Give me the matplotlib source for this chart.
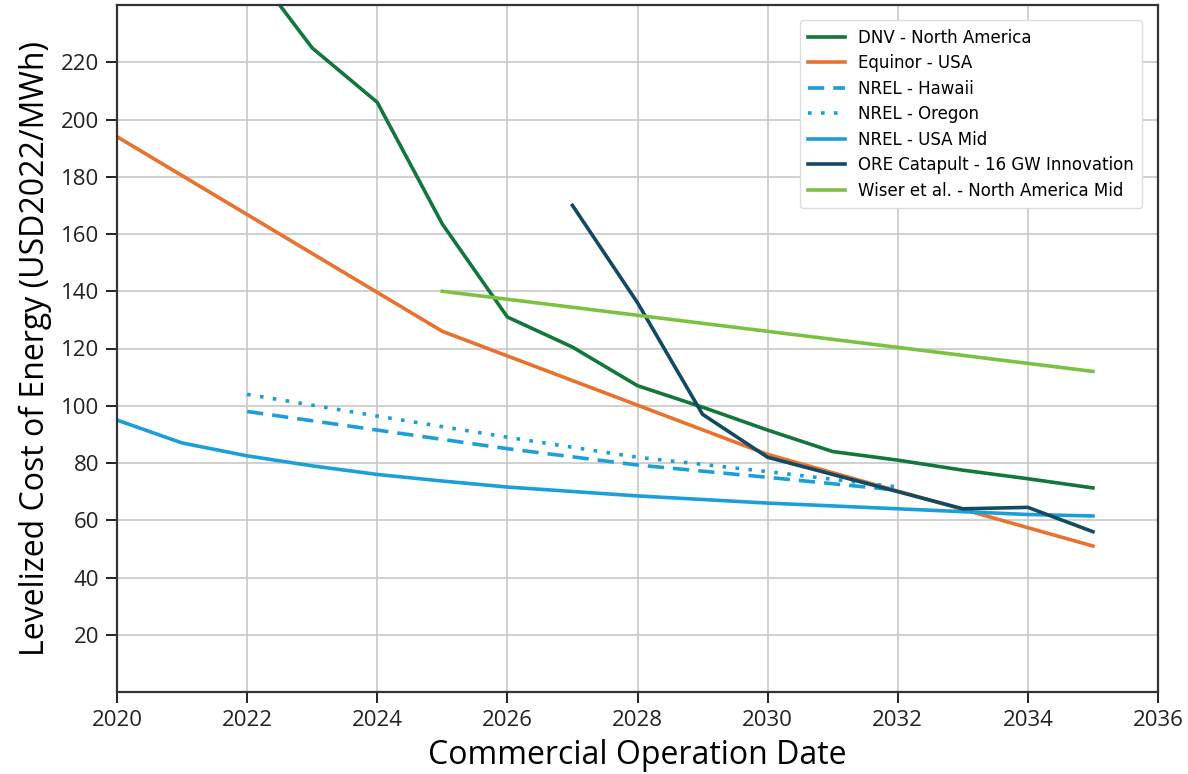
import matplotlib
matplotlib.use("Agg")
import matplotlib.pyplot as plt

dnv_years = [2022, 2023, 2024, 2025, 2026, 2027, 2028, 2029, 2030, 2031, 2032, 2033, 2034, 2035]
dnv_vals = [255, 225, 206, 163.5, 131, 120.5, 107, 99.5, 91.5, 84, 81, 77.5, 74.5, 71.3]

equinor_years = [2020, 2025, 2030, 2035]
equinor_vals = [194, 126, 83, 51]

hawaii_years = [2022, 2024, 2026, 2028, 2030, 2032]
hawaii_vals = [98, 91.5, 85, 79.3, 75, 70.5]

oregon_years = [2022, 2024, 2026, 2028, 2030, 2032]
oregon_vals = [104, 96.4, 89, 82, 77, 71.6]

usamid_years = [2020, 2021, 2022, 2023, 2024, 2025, 2026, 2028, 2030, 2032, 2034, 2035]
usamid_vals = [95, 87, 82.5, 79, 76, 73.7, 71.6, 68.5, 66, 64, 62, 61.5]

ore_years = [2027, 2028, 2029, 2030, 2033, 2034, 2035]
ore_vals = [170, 136, 97, 82, 64, 64.5, 56]

wiser_years = [2025, 2035]
wiser_vals = [140, 112]

labels = ["DNV - North America", "Equinor - USA", "NREL - Hawaii", "NREL - Oregon",
          "NREL - USA Mid", "ORE Catapult - 16 GW Innovation", "Wiser et al. - North America Mid"]

fig = plt.figure(figsize=(11.88, 7.74), dpi=100)
ax = fig.add_axes([117/1188, 82/774, (1158-117)/1188, (692-5)/774])

lw = 2.6
blue = "#1c9fd9"
ax.plot(dnv_years, dnv_vals, color="#13773c", lw=lw, label=labels[0])
ax.plot(equinor_years, equinor_vals, color="#e8722e", lw=lw, label=labels[1])
ax.plot(hawaii_years, hawaii_vals, color=blue, lw=lw, ls=(0, (4.5, 2.5)), label=labels[2])
ax.plot(oregon_years, oregon_vals, color=blue, lw=lw, ls=(0, (1, 2.6)), label=labels[3])
ax.plot(usamid_years, usamid_vals, color=blue, lw=lw, label=labels[4])
ax.plot(ore_years, ore_vals, color="#124a63", lw=lw, label=labels[5])
ax.plot(wiser_years, wiser_vals, color="#7cc242", lw=lw, label=labels[6])

ax.set_xlim(2020, 2036)
ax.set_ylim(0, 240)
ax.set_xticks(range(2020, 2037, 2))
ax.set_yticks(range(20, 221, 20))
ax.grid(True, color="#c8c8c8", lw=1.2)
ax.set_axisbelow(True)
for s in ax.spines.values():
    s.set_linewidth(1.6)
    s.set_color("#333333")
ax.tick_params(labelsize=16, width=1.4, length=8, colors="#222222", pad=5)
for t in ax.get_xticklabels() + ax.get_yticklabels():
    t.set_fontfamily("Open Sans")

ax.set_xlabel("Commercial Operation Date", fontsize=23, fontfamily="Open Sans", labelpad=6)
ax.set_ylabel("Levelized Cost of Energy (USD2022/MWh)", fontsize=23, fontfamily="Open Sans", labelpad=6)

leg = ax.legend(loc="upper right", fontsize=12, frameon=True, framealpha=1,
                edgecolor="#dddddd", handlelength=2.2, borderpad=0.5, labelspacing=0.45,
                bbox_to_anchor=(0.993, 0.99))
leg.get_frame().set_linewidth(1.0)

fig.savefig("out.png", dpi=100)
